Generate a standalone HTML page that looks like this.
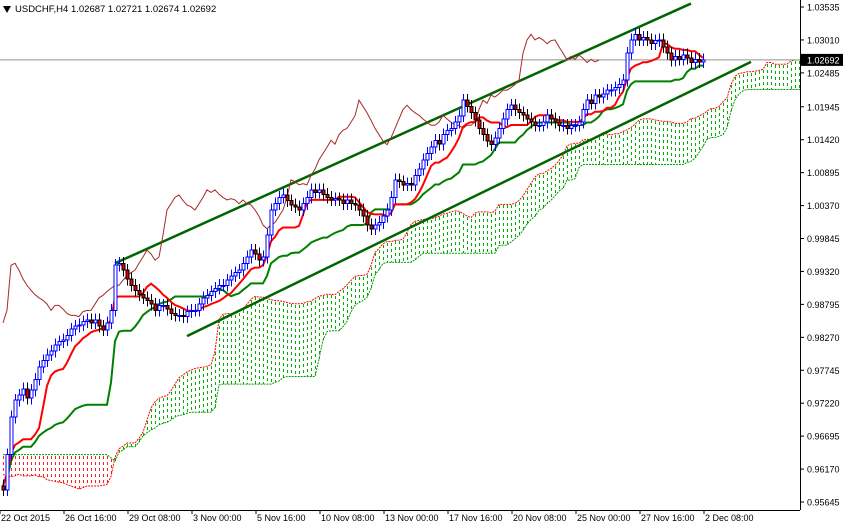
<!DOCTYPE html>
<html><head><meta charset="utf-8"><style>
html,body{margin:0;padding:0;background:#fff;}
svg{display:block;font-family:"Liberation Sans",Arial,sans-serif;}
</style></head><body>
<svg id="chart" width="843" height="523" viewBox="0 0 843 523" xmlns="http://www.w3.org/2000/svg">
<rect x="0" y="0" width="843" height="523" fill="#fff"/>
<g id="cloud"></g>
<g id="channel"></g>
<g id="lines"></g>
<g id="candles" shape-rendering="crispEdges"></g>
<g id="axes"></g>
<polygon points="3,6 11,6 7,13" fill="#000"/>
<text x="15" y="12" font-size="9.5" fill="#000">USDCHF,H4  1.02687 1.02721 1.02674 1.02692</text>
</svg>
<script>
// ---- data ----
const historyCloses = [0.9720,0.9710,0.9700,0.9690,0.9695,0.9680,0.9670,0.9660,0.9665,0.9650,0.9640,0.9630,0.9620,0.9615,0.9610,0.9600,0.9590,0.9595,0.9585,0.9575,0.9570,0.9565,0.9560,0.9565,0.9570,0.9575,
0.9580,0.9590,0.9600,0.9610,0.9620,0.9625,0.9630,0.9620,0.9610,0.9600,0.9590,0.9580,0.9575,0.9570,0.9565,0.9560,0.9565,0.9570,0.9580,0.9590,0.9600,0.9610,0.9605,0.9600,0.9595,0.9590];
const closes = [0.9584,0.9640,0.9700,0.9727,0.9735,0.9745,0.9730,0.9743,0.9760,0.9780,0.9790,0.9799,
0.9805,0.9815,0.9820,0.9823,0.9830,0.9840,0.9845,0.9847,0.9852,0.9855,0.9850,0.9855,
0.9845,0.9839,0.9850,0.9870,0.9942,0.9945,0.9934,0.9920,0.9910,0.9902,0.9895,0.9890,
0.9886,0.9880,0.9870,0.9878,0.9878,0.9872,0.9865,0.9862,0.9862,0.9860,0.9868,0.9870,
0.9870,0.9880,0.9890,0.9894,0.9900,0.9905,0.9910,0.9910,0.9918,0.9925,0.9930,0.9934,
0.9945,0.9955,0.9966,0.9960,0.9950,0.9955,0.9990,1.0030,1.0040,1.0050,1.0054,1.0045,
1.0038,1.0035,1.0030,1.0040,1.0050,1.0062,1.0058,1.0062,1.0055,1.0050,1.0046,1.0048,
1.0046,1.0040,1.0046,1.0040,1.0038,1.0030,1.0020,1.0006,1.0000,1.0006,1.0010,1.0020,
1.0030,1.0050,1.0078,1.0075,1.0070,1.0072,1.0070,1.0085,1.0095,1.0110,1.0120,1.0130,
1.0141,1.0135,1.0150,1.0157,1.0160,1.0170,1.0180,1.0205,1.0195,1.0185,1.0173,1.0160,
1.0150,1.0140,1.0134,1.0145,1.0160,1.0175,1.0190,1.0197,1.0190,1.0185,1.0181,1.0175,
1.0170,1.0165,1.0165,1.0170,1.0181,1.0175,1.0170,1.0165,1.0165,1.0160,1.0165,1.0165,
1.0170,1.0190,1.0205,1.0200,1.0213,1.0210,1.0215,1.0221,1.0221,1.0225,1.0230,1.0237,
1.0280,1.0301,1.0310,1.0301,1.0305,1.0301,1.0295,1.0300,1.0301,1.0290,1.0280,1.0269,
1.0275,1.0270,1.0277,1.0272,1.0265,1.0270,1.0266,1.0269];
const priceTicks = [1.03535,1.03010,1.02485,1.01945,1.01420,1.00895,1.00370,0.99845,0.99320,0.98795,0.98270,0.97745,0.97220,0.96695,0.96170,0.95645];
const timeLabels = ["22 Oct 2015","26 Oct 16:00","29 Oct 08:00","3 Nov 00:00","5 Nov 16:00","10 Nov 08:00","13 Nov 00:00","17 Nov 16:00","20 Nov 08:00","25 Nov 00:00","27 Nov 16:00","2 Dec 08:00"];
const timeLabelBars = [0,16,32,48,64,80,96,112,128,144,160,176];
const channelUpper = [[28,0.9945],[172,1.0359]];
const channelLower = [[46,0.9829],[187,1.0266]];
const lastPrice = 1.02692;

// ---- axes functions ----
const NS="http://www.w3.org/2000/svg";
const xOf = i => 3 + 4*i;
const yOf = p => 7 + (1.03535 - p)*6274;
function mk(tag, attrs, parent){const e=document.createElementNS(NS,tag);for(const k in attrs)e.setAttribute(k,attrs[k]);parent.appendChild(e);return e;}
const all = historyCloses.concat(closes);
const H = historyCloses.length;
const opens = all.map((c,i)=> i? all[i-1] : c);
const highs = all.map((c,i)=> Math.max(c,opens[i])+0.0010);
const lows = all.map((c,i)=> Math.min(c,opens[i])-0.0010);
function mid(end, n){let s=Math.max(0,end-n+1),hh=-1e9,ll=1e9;for(let k=s;k<=end;k++){hh=Math.max(hh,highs[k]);ll=Math.min(ll,lows[k]);}return (hh+ll)/2;}

// ---- cloud ----
const cloud=document.getElementById('cloud');
const spanA=[], spanB=[];
for(let i=0;i<closes.length+26;i++){
  const src=H+i-26;
  if(src<0||src>=all.length) continue;
  const a=(mid(src,9)+mid(src,26))/2, b=mid(src,52);
  spanA.push([i,a]); spanB.push([i,b]);
  const col = (a>=b && i>=20)?'#00b000':'#ff2020';
  const y1=Math.min(yOf(a),yOf(b)), y2=Math.max(yOf(a),yOf(b));
  for(let y=Math.round(y1)+1;y<y2-1;y+=6){
    const d=mk('rect',{x:xOf(i),y:y,width:1,height:Math.min(3,y2-y),fill:col,style:'fill:'+col},cloud);
    
    
  }
}
const pA=mk('polyline',{points:spanA.map(d=>xOf(d[0])+','+yOf(d[1])).join(' '),fill:'none',stroke:'#ff0000','stroke-width':1,'stroke-dasharray':'2,1'},cloud);


const pB=mk('polyline',{points:spanB.map(d=>xOf(d[0])+','+yOf(d[1])).join(' '),fill:'none',stroke:'#00a000','stroke-width':1,'stroke-dasharray':'2,1'},cloud);



// ---- channel ----
const ch=document.getElementById('channel');
[[channelUpper,'channel-upper'],[channelLower,'channel-lower']].forEach(([c,n])=>{
  const l=mk('line',{x1:xOf(c[0][0]),y1:yOf(c[0][1]),x2:xOf(c[1][0]),y2:yOf(c[1][1]),stroke:'#006400','stroke-width':2.5},ch);
  
  
});

const pl=mk('line',{x1:0,x2:800,y1:yOf(lastPrice),y2:yOf(lastPrice),stroke:'#909090','stroke-width':1},ch);



// ---- ichimoku lines ----
const lg=document.getElementById('lines');
const tk=[],kj=[],chk=[];
closes.forEach((c,i)=>{tk.push(xOf(i)+','+yOf(mid(H+i,9)));kj.push(xOf(i)+','+yOf(mid(H+i,26)));if(i>=26)chk.push(xOf(i-26)+','+yOf(c));});
const lc=mk('polyline',{points:chk.join(' '),fill:'none',stroke:'#a52a2a','stroke-width':1},lg);


const lk=mk('polyline',{points:kj.join(' '),fill:'none',stroke:'#008000','stroke-width':2},lg);


const lt=mk('polyline',{points:tk.join(' '),fill:'none',stroke:'#ff0000','stroke-width':2},lg);



// ---- candles ----
const cg=document.getElementById('candles');
closes.forEach((c,i)=>{
  const k=H+i,o=opens[k],bull=c>=o,x=xOf(i)+0.5;
  const col=bull?'#0000ff':'#000';
  const w=mk('line',{x1:x,x2:x,y1:yOf(highs[k]),y2:yOf(lows[k]),stroke:col,'stroke-width':1},cg);
  
  
  const top=yOf(Math.max(o,c)),h=Math.max(1,yOf(Math.min(o,c))-top);
  const r=mk('rect',{x:x-1.5,y:top,width:3,height:h,fill:bull?'#fff':'#e00000',stroke:col,'stroke-width':1},cg);
  
  
});

// ---- axes ----
const ax=document.getElementById('axes');
mk('rect',{x:800,y:0,width:43,height:523,fill:'#fff'},ax);
mk('rect',{x:0,y:510,width:843,height:13,fill:'#fff'},ax);
mk('line',{x1:800.5,x2:800.5,y1:0,y2:510,stroke:'#000'},ax);
mk('line',{x1:0,x2:800,y1:510.5,y2:510.5,stroke:'#000'},ax);
priceTicks.forEach(p=>{
  const y=yOf(p);
  mk('line',{x1:800,x2:804,y1:y,y2:y,stroke:'#000'},ax);
  const t=mk('text',{x:807,y:y+3.5,'font-size':9,fill:'#000'},ax);
  t.textContent=p.toFixed(5);
  
  
});
const yl=yOf(lastPrice);
mk('rect',{x:801,y:yl-6,width:42,height:12,fill:'#000'},ax);
const lt2=mk('text',{x:807,y:yl+3.5,'font-size':9,fill:'#fff'},ax);
lt2.textContent=lastPrice.toFixed(5);


timeLabels.forEach((s,j)=>{
  const x=xOf(timeLabelBars[j])-3;
  mk('line',{x1:x,x2:x,y1:510,y2:514,stroke:'#000'},ax);
  const t=mk('text',{x:x+1,y:521,'font-size':9,fill:'#000'},ax);
  t.textContent=s;
  
  
});
</script>
</body></html>
